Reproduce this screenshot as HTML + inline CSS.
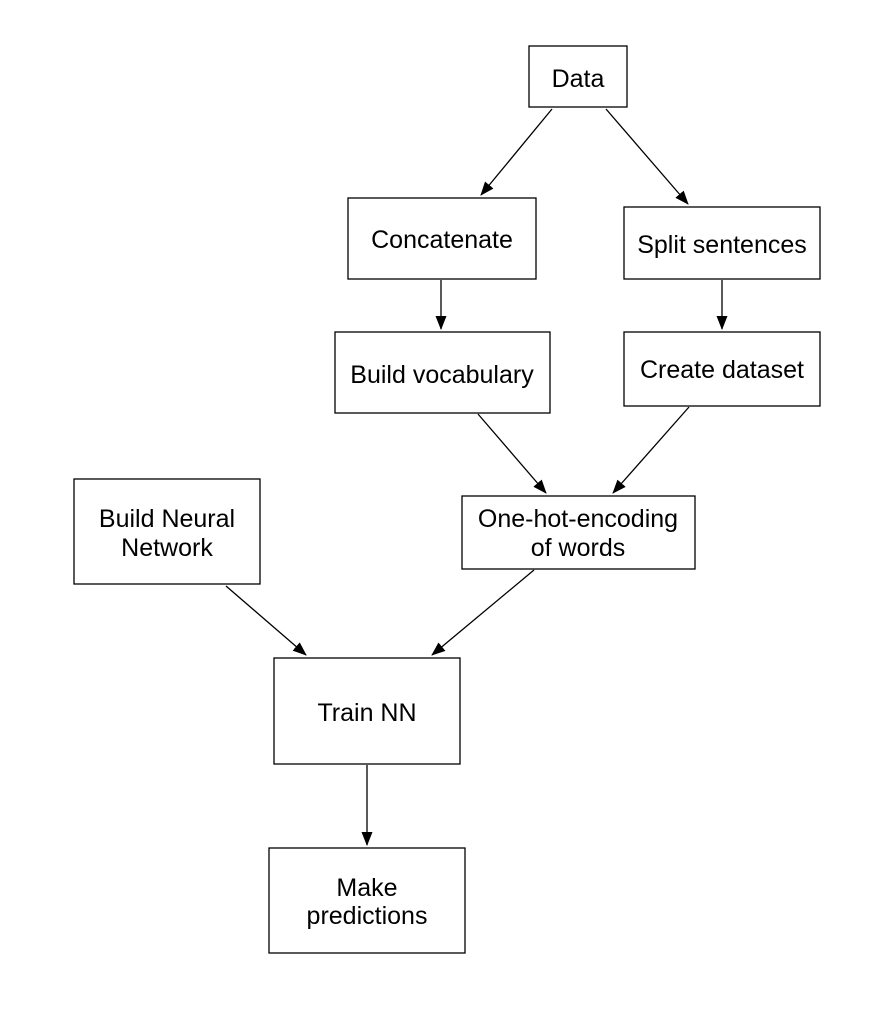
<!DOCTYPE html>
<html><head><style>
html,body{margin:0;padding:0;background:#fff;}
</style></head><body>
<svg width="888" height="1016" xmlns="http://www.w3.org/2000/svg" font-family="Liberation Sans, sans-serif" font-size="25" text-anchor="middle">
<defs><marker id="a" markerWidth="14" markerHeight="14" refX="13" refY="7" orient="auto" markerUnits="userSpaceOnUse"><path d="M0,1.5 L14,7 L0,12.5 Z" fill="#000"/></marker></defs>
<g fill="#fff" stroke="#000" stroke-width="1.3">
<rect x="529" y="46" width="98" height="61"/>
<rect x="348" y="198" width="188" height="81"/>
<rect x="624" y="207" width="196" height="72"/>
<rect x="335" y="332" width="215" height="81"/>
<rect x="624" y="332" width="196" height="74"/>
<rect x="74" y="479" width="186" height="105"/>
<rect x="462" y="496" width="233" height="73"/>
<rect x="274" y="658" width="186" height="106"/>
<rect x="269" y="848" width="196" height="105"/>
</g>
<g stroke="#000" stroke-width="1.3" marker-end="url(#a)">
<line x1="552" y1="109" x2="481" y2="195"/>
<line x1="606" y1="109" x2="688" y2="204"/>
<line x1="441" y1="280" x2="441" y2="329"/>
<line x1="722" y1="280" x2="722" y2="329"/>
<line x1="478" y1="414" x2="546" y2="493"/>
<line x1="689" y1="407" x2="613" y2="493"/>
<line x1="226" y1="586" x2="306" y2="655"/>
<line x1="534" y1="570" x2="432" y2="655"/>
<line x1="367" y1="765" x2="367" y2="845"/>
</g>
<g fill="#000">
<text x="578" y="87">Data</text>
<text x="442" y="248">Concatenate</text>
<text x="722" y="253">Split sentences</text>
<text x="442" y="383">Build vocabulary</text>
<text x="722" y="378">Create dataset</text>
<text x="167" y="527">Build Neural</text>
<text x="167" y="556">Network</text>
<text x="578" y="527">One-hot-encoding</text>
<text x="578" y="556">of words</text>
<text x="367" y="721">Train NN</text>
<text x="367" y="896">Make</text>
<text x="367" y="924">predictions</text>
</g>
</svg>
</body></html>
